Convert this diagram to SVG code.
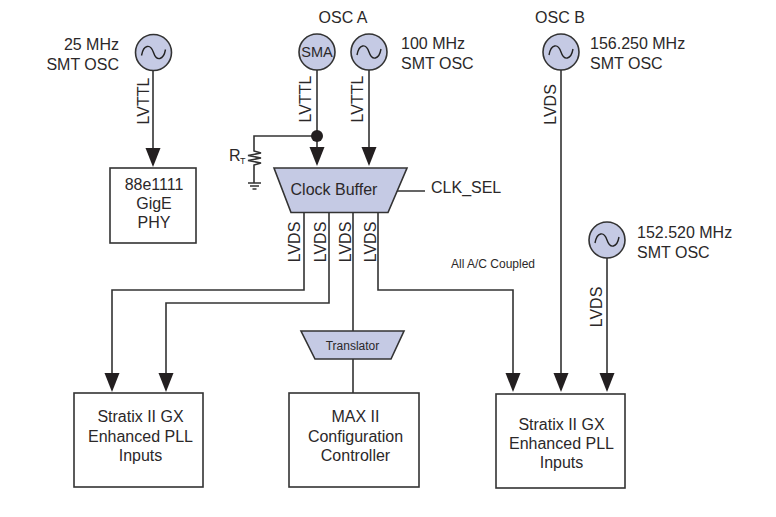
<svg xmlns="http://www.w3.org/2000/svg" width="776" height="517" viewBox="0 0 776 517">
<style>
text{font-family:"Liberation Sans",Arial,sans-serif;font-size:16px;fill:#2b2829}
.m{text-anchor:middle}
.e{text-anchor:end}
.s{font-size:12px}
.f{fill:#c5cae4;stroke:#333;stroke-width:1.6}
.b{fill:#fff;stroke:#333;stroke-width:1.6}
.w{fill:none;stroke:#222;stroke-width:1.4}
.l{fill:none;stroke:#333;stroke-width:1.6}
.a{fill:#231f20}
</style>
<defs>
<g id="osc"><circle class="f" r="18"/><path class="w" d="M-12,3C-10,-8 -3,-9 0,0S10,8 12,-3"/></g>
<polygon id="head" class="a" points="-7.500,-19 7.500,-19 0,0"/>
</defs>
<rect width="776" height="517" fill="#fff"/>
<g id="connectors">
<path class="l" d="M153,70V150M317,70V150M369,70V150M561,70V375M607,258V375"/>
<path class="l" d="M317,136H254V151L261,153L248,155.500L261,158L248,160.500L261,163L254,165V183M248,183H261M250,186H259M252.500,189H256.500"/>
<path class="l" d="M304,212V290H112V375M329,212V303H166V375M353,212V331M378,212V290H513V375M353,359V393M397,191H425"/>
<use href="#head" x="153" y="167"/><use href="#head" x="317" y="166"/><use href="#head" x="369" y="166"/>
<use href="#head" x="112" y="392"/><use href="#head" x="166" y="392"/><use href="#head" x="513" y="392"/><use href="#head" x="561" y="392"/><use href="#head" x="607" y="392"/>
<circle class="a" cx="317" cy="136" r="6"/>
</g>
<g id="osc25"><use href="#osc" x="153.500" y="52.500"/><text class="e" x="119" y="50">25 MHz</text><text class="e" x="119" y="70">SMT OSC</text><text class="m" transform="translate(149,101) rotate(-90)">LVTTL</text></g>
<g id="sma"><circle class="f" cx="317" cy="52" r="18"/><text class="m" x="317" y="57" style="font-size:14.500px">SMA</text><text class="m" x="343" y="23">OSC A</text><text class="m" transform="translate(311,99) rotate(-90)">LVTTL</text></g>
<g id="osc100"><use href="#osc" x="369" y="52"/><text x="401" y="49">100 MHz</text><text x="401" y="69">SMT OSC</text><text class="m" transform="translate(363,99) rotate(-90)">LVTTL</text></g>
<g id="oscb"><use href="#osc" x="561" y="52"/><text class="m" x="560" y="23">OSC B</text><text x="590" y="49">156.250 MHz</text><text x="590" y="69">SMT OSC</text><text class="m" transform="translate(556,104.500) rotate(-90)">LVDS</text></g>
<g id="osc152"><use href="#osc" x="607" y="240"/><text x="637" y="238">152.520 MHz</text><text x="637" y="258">SMT OSC</text><text class="m" transform="translate(602,307) rotate(-90)">LVDS</text></g>
<g id="phy"><rect class="b" x="110" y="168" width="86" height="75"/><text class="m" x="154" y="190">88e1111</text><text class="m" x="154" y="209">GigE</text><text class="m" x="154" y="228">PHY</text></g>
<g id="rt"><text x="229" y="161">R</text><text x="240" y="164" style="font-size:9px">T</text></g>
<g id="clockbuffer"><polygon class="f" points="274,168 407,168 388,212.500 291,212.500"/><text class="m" x="334" y="195">Clock Buffer</text><text x="431" y="193">CLK_SEL</text>
<text class="m" transform="translate(300,242) rotate(-90)">LVDS</text><text class="m" transform="translate(325.500,242) rotate(-90)">LVDS</text><text class="m" transform="translate(350.500,242) rotate(-90)">LVDS</text><text class="m" transform="translate(376,242) rotate(-90)">LVDS</text></g>
<text id="coupled" class="s" x="451" y="268">All A/C Coupled</text>
<g id="translator"><polygon class="f" points="301,331 404,331 391,359 315,359"/><text class="m s" x="352.500" y="350">Translator</text></g>
<g id="stratix1"><rect class="b" x="74" y="393" width="129" height="94"/><text class="m" x="140.500" y="422">Stratix II GX</text><text class="m" x="140.500" y="442">Enhanced PLL</text><text class="m" x="140.500" y="461">Inputs</text></g>
<g id="max"><rect class="b" x="289" y="393" width="130" height="94"/><text class="m" x="355.500" y="422">MAX II</text><text class="m" x="355.500" y="442">Configuration</text><text class="m" x="355.500" y="461">Controller</text></g>
<g id="stratix2"><rect class="b" x="496" y="394" width="129" height="94"/><text class="m" x="561.500" y="430">Stratix II GX</text><text class="m" x="561.500" y="449">Enhanced PLL</text><text class="m" x="561.500" y="468">Inputs</text></g>
</svg>
